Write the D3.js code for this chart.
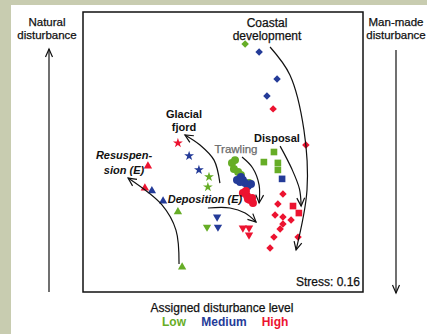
<!DOCTYPE html>
<html>
<head>
<meta charset="utf-8">
<script src="https://cdn.jsdelivr.net/npm/d3@7"></script>
<style>
  html, body { margin: 0; padding: 0; background: #c8ccb0; }
  #chart { position: relative; }
  text { font-family: "Liberation Sans", Arial, sans-serif; }
</style>
</head>
<body>
<div id="chart"></div>
<script>
// disturbance levels and their colours
const levels = ["Low", "Medium", "High"];
const levelColors = ["#66ad26", "#243b98", "#ec1330"];

// ordination scores (scaled 0-100), one array per disturbance type
// [x, y, level]
const coastal = [[57.9, 88.6, "Low"], [62.9, 85.7, "Medium"], [69.3, 76.1, "Medium"],
  [65.7, 70.0, "Medium"], [67.9, 65.4, "High"],
  [79.6, 52.5, "High"], [71.4, 35.0, "High"], [69.6, 31.4, "High"], [68.6, 27.5, "High"],
  [71.4, 26.8, "High"], [74.3, 25.7, "High"], [71.4, 24.3, "High"], [70.4, 22.5, "High"],
  [68.2, 19.6, "High"], [66.8, 15.7, "High"], [76.8, 19.6, "High"]];
const disposal = [[68.2, 50.0, "Low"], [64.6, 46.4, "Low"], [69.6, 46.1, "Low"], [69.6, 43.6, "Low"],
  [71.1, 40.4, "Medium"], [75.0, 30.7, "High"], [77.1, 28.2, "High"]];
const trawling = [[53.2, 46.1, "Low"], [54.3, 47.1, "Low"], [53.9, 43.9, "Low"], [55.4, 42.9, "Low"],
  [56.4, 41.8, "Low"], [59.3, 38.9, "Low"],
  [55.0, 40.0, "Medium"], [56.4, 41.1, "Medium"], [57.1, 40.0, "Medium"], [57.9, 38.9, "Medium"],
  [58.9, 37.9, "Medium"], [60.0, 38.6, "Medium"], [56.1, 39.3, "Medium"],
  [57.1, 35.4, "High"], [57.9, 35.7, "High"], [58.6, 34.3, "High"], [58.9, 33.2, "High"],
  [59.6, 32.9, "High"], [60.4, 33.6, "High"], [60.7, 31.8, "High"], [58.2, 36.1, "High"]];
const fjord = [[33.9, 53.2, "High"], [37.9, 48.6, "Medium"], [41.4, 43.6, "Medium"],
  [45.0, 41.1, "Low"], [44.6, 37.5, "Low"]];
const resuspension = [[23.2, 45.0, "High"], [22.1, 37.1, "High"], [24.6, 36.1, "Medium"],
  [28.6, 32.5, "Medium"], [33.9, 28.6, "Low"], [35.4, 8.9, "Low"]];
const deposition = [[47.9, 26.8, "Medium"], [48.2, 23.2, "Medium"], [44.3, 23.2, "Low"],
  [57.1, 22.9, "High"], [59.3, 22.9, "High"], [59.3, 20.4, "High"]];

// trend arrows (tail -> head)
const arrowCoastal = [[66.8, 87.5], [73.9, 77.5], [78.9, 57.9], [80.0, 36.4], [76.1, 15.0]];
const arrowDisposal = [[70.4, 52.1], [74.6, 43.9], [77.3, 36.8], [77.9, 30.7]];
const arrowTrawling = [[56.8, 48.2], [60.6, 44.3], [62.9, 38.2], [62.9, 31.8]];
const arrowFjord = [[48.9, 38.9], [46.8, 47.1], [41.8, 52.5], [36.4, 56.1]];
const arrowResusp = [[34.3, 10.0], [33.2, 22.1], [28.2, 31.1], [16.1, 40.7]];
const arrowDepo = [[44.6, 30.0], [52.5, 30.0], [57.9, 28.2], [61.8, 25.0]];

const stressLabel = "Stress: 0.16";

const width = 427, height = 334;
const box = {left: 83, top: 12, right: 363, bottom: 292};

const svg = d3.select("#chart").append("svg")
    .attr("width", width)
    .attr("height", height)
    .style("display", "block");

// white panel with olive frame on left/top
svg.append("rect")
    .attr("x", 11).attr("y", 5)
    .attr("width", width - 11).attr("height", height - 5)
    .attr("fill", "white");

const x = d3.scaleLinear().domain([0, 100]).range([box.left, box.right]);
const y = d3.scaleLinear().domain([0, 100]).range([box.bottom, box.top]);
const color = d3.scaleOrdinal().domain(levels).range(levelColors);

svg.append("rect")
    .attr("x", box.left).attr("y", box.top)
    .attr("width", box.right - box.left).attr("height", box.bottom - box.top)
    .attr("fill", "none")
    .attr("stroke", "#111")
    .attr("stroke-width", 1.5);

// points
function drawPoints(data, type, size, rotate) {
    svg.append("g").selectAll("path")
        .data(data)
        .enter()
        .append("path")
        .attr("d", d3.symbol().type(type).size(size))
        .attr("transform", d => `translate(${x(d[0])},${y(d[1])}) rotate(${rotate})`)
        .attr("fill", d => color(d[2]));
}

drawPoints(coastal, d3.symbolSquare, 28, 45);
drawPoints(disposal, d3.symbolSquare, 44, 0);
drawPoints(trawling, d3.symbolCircle, 50, 0);
drawPoints(fjord, d3.symbolStar, 30, 0);
drawPoints(resuspension, d3.symbolTriangle, 30, 0);
drawPoints(deposition, d3.symbolTriangle, 30, 180);

// curved arrows with open heads
const line = d3.line()
    .x(d => x(d[0]))
    .y(d => y(d[1]))
    .curve(d3.curveCatmullRom.alpha(0.5));

function drawArrow(pts) {
    const p = svg.append("path")
        .attr("d", line(pts))
        .attr("fill", "none")
        .attr("stroke", "#111")
        .attr("stroke-width", 1.2);
    const node = p.node();
    const L = node.getTotalLength();
    const end = node.getPointAtLength(L);
    const back = node.getPointAtLength(L - 4);
    const ang = Math.atan2(end.y - back.y, end.x - back.x);
    const len = 9, spread = 0.45;
    const a1 = [end.x - len * Math.cos(ang - spread), end.y - len * Math.sin(ang - spread)];
    const a2 = [end.x - len * Math.cos(ang + spread), end.y - len * Math.sin(ang + spread)];
    svg.append("path")
        .attr("d", `M${a1[0]},${a1[1]}L${end.x},${end.y}L${a2[0]},${a2[1]}`)
        .attr("fill", "none")
        .attr("stroke", "#111")
        .attr("stroke-width", 1.2);
}

[arrowCoastal, arrowDisposal, arrowTrawling, arrowFjord, arrowResusp, arrowDepo].forEach(drawArrow);

// side arrows
function sideArrow(xp, y1, y2, up) {
    svg.append("line")
        .attr("x1", xp).attr("x2", xp)
        .attr("y1", y1).attr("y2", y2)
        .attr("stroke", "#111").attr("stroke-width", 1.2);
    const tip = up ? y1 : y2;
    const d = up ? 8 : -8;
    svg.append("path")
        .attr("d", `M${xp - 3.5},${tip + d}L${xp},${tip}L${xp + 3.5},${tip + d}`)
        .attr("fill", "none").attr("stroke", "#111").attr("stroke-width", 1.2);
}
sideArrow(49, 49, 292, true);
sideArrow(396, 50, 293, false);

// labels
function label(lines, xp, yp, opts) {
    const fill = opts.fill || "#111";
    const t = svg.append("text")
        .attr("x", xp).attr("y", yp)
        .attr("text-anchor", opts.anchor || "middle")
        .attr("font-size", opts.size || 11)
        .attr("font-weight", opts.weight || "normal")
        .attr("font-style", opts.style || "normal")
        .attr("fill", fill)
        .attr("stroke", opts.weight === "bold" ? "none" : fill)
        .attr("stroke-width", 0.25);
    lines.forEach((s, i) => {
        t.append("tspan").attr("x", xp).attr("dy", i === 0 ? 0 : (opts.lh || 13)).text(s);
    });
}

label(["Natural", "disturbance"], 47, 26, {size: 11.5, lh: 12.5});
label(["Man-made", "disturbance"], 396, 26, {size: 11.5, lh: 12.5});
label(["Coastal", "development"], 267, 27, {size: 12, lh: 12.5});
label(["Glacial", "fjord"], 184, 118, {size: 11, weight: "bold", lh: 13});
label(["Trawling"], 236, 153, {size: 11.5, fill: "#6a6a6a"});
label(["Disposal"], 277, 142, {size: 11, weight: "bold"});
label(["Resuspen-", "sion (E)"], 124, 159, {size: 11, weight: "bold", style: "italic", lh: 15});
label(["Deposition (E)"], 205, 203, {size: 11, weight: "bold", style: "italic"});
label([stressLabel], 360, 286, {size: 12, anchor: "end"});
label(["Assigned disturbance level"], 222, 312, {size: 12});

const legendX = [174, 224, 275];
levels.forEach((lv, i) => {
    svg.append("text")
        .attr("x", legendX[i]).attr("y", 326)
        .attr("text-anchor", "middle")
        .attr("font-size", 12)
        .attr("font-weight", "bold")
        .attr("fill", color(lv))
        .text(lv);
});
</script>
</body>
</html>
